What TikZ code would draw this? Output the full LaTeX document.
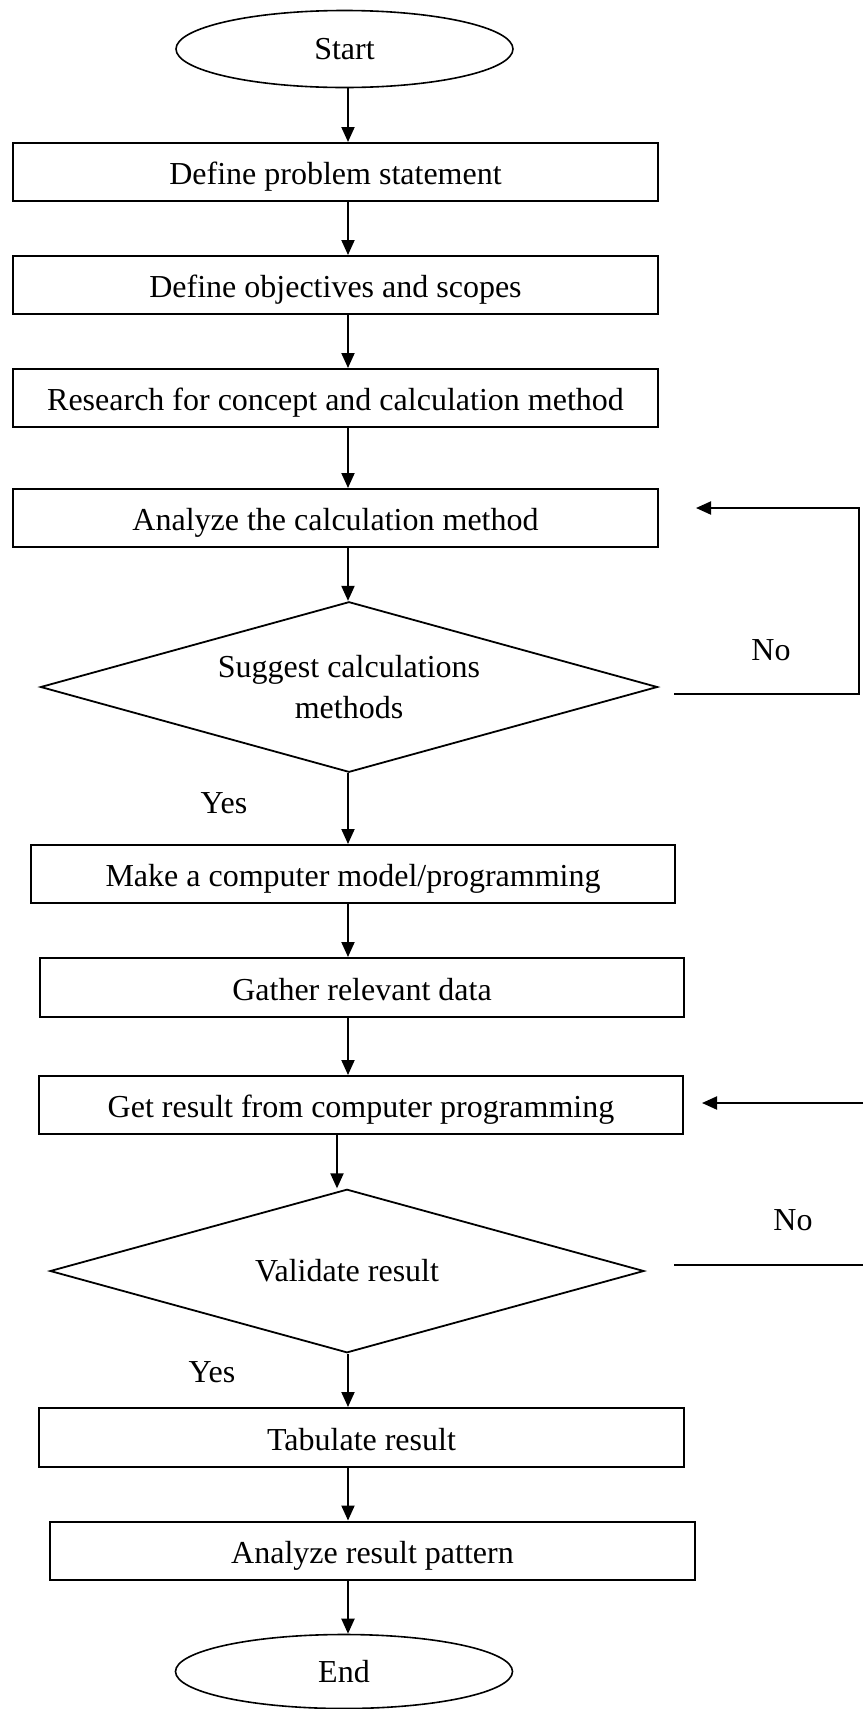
\documentclass[tikz,border=0pt]{standalone}
\usepackage{fontspec}
\setmainfont{Liberation Serif}
\usetikzlibrary{shapes.geometric,arrows.meta}
\begin{document}
\begin{tikzpicture}[x=1pt,y=-1pt,
  every node/.style={font=\fontsize{32}{41}\selectfont},
  box/.style={draw, line width=2pt, rectangle, inner sep=0pt, minimum width=645pt, minimum height=58pt, text height=25pt, text depth=0pt},
  term/.style={draw, line width=1.6pt, ellipse, inner sep=0pt, minimum width=337pt, minimum height=77pt},
  decision/.style={draw, line width=1.8pt, diamond, inner sep=0pt, align=center, aspect=3.6},
  arr/.style={line width=2pt, -{Triangle[length=15pt,width=13pt]}},
  plainline/.style={line width=2pt}
]
\useasboundingbox (0,0) rectangle (863,1709);

\node[term] (start) at (344.5,49) {Start};
\node[box] (b1) at (335.5,172) {Define problem statement};
\node[box] (b2) at (335.5,285) {Define objectives and scopes};
\node[box] (b3) at (335.5,398) {Research for concept and calculation method};
\node[box] (b4) at (335.5,518) {Analyze the calculation method};
\node[decision, minimum width=617pt, minimum height=170.5pt, text depth=0pt] (d1) at (349,687) {Suggest calculations\\methods};
\node[box, minimum width=644pt] (b5) at (353,874) {Make a computer model/programming};
\node[box, minimum width=644pt, minimum height=59pt] (b6) at (362,987.5) {Gather relevant data};
\node[box, minimum width=644pt] (b7) at (361,1105) {Get result from computer programming};
\node[decision, minimum width=594pt, minimum height=163.5pt] (d2) at (347,1271) {Validate result};
\node[box, minimum height=59pt] (b8) at (361.5,1437.5) {Tabulate result};
\node[box] (b9) at (372.5,1550.5) {Analyze result pattern};
\node[term, minimum height=74pt] (end) at (344,1671.5) {End};

\node (yes1) at (224,803) {Yes};
\node (yes2) at (212,1372) {Yes};
\node (no1) at (771,650) {No};
\node (no2) at (793,1220) {No};

\coordinate (cx) at (348,0);
\coordinate (cx2) at (337,0);
\draw[arr] (start.south -| cx) -- (b1.north -| cx);
\draw[arr] (b1.south -| cx) -- (b2.north -| cx);
\draw[arr] (b2.south -| cx) -- (b3.north -| cx);
\draw[arr] (b3.south -| cx) -- (b4.north -| cx);
\draw[arr] (b4.south -| cx) -- (d1.north -| cx);
\draw[arr] (d1.south -| cx) -- (b5.north -| cx);
\draw[arr] (b5.south -| cx) -- (b6.north -| cx);
\draw[arr] (b6.south -| cx) -- (b7.north -| cx);
\draw[arr] (b7.south -| cx2) -- (d2.north -| cx2);
\draw[arr] (d2.south -| cx) -- (b8.north -| cx);
\draw[arr] (b8.south -| cx) -- (b9.north -| cx);
\draw[arr] (b9.south -| cx) -- (end.north -| cx);

\coordinate (n1a) at (674,694);
\coordinate (n1b) at (859,694);
\coordinate (n1c) at (859,508);
\coordinate (n1d) at (696,508);
\draw[arr] (n1a) -- (n1b) -- (n1c) -- (n1d);

\coordinate (n2a) at (674,1265);
\coordinate (n2b) at (863,1265);
\draw[plainline] (n2a) -- (n2b);
\coordinate (n2c) at (863,1103);
\coordinate (n2d) at (702,1103);
\draw[arr] (n2c) -- (n2d);
\end{tikzpicture}
\end{document}
